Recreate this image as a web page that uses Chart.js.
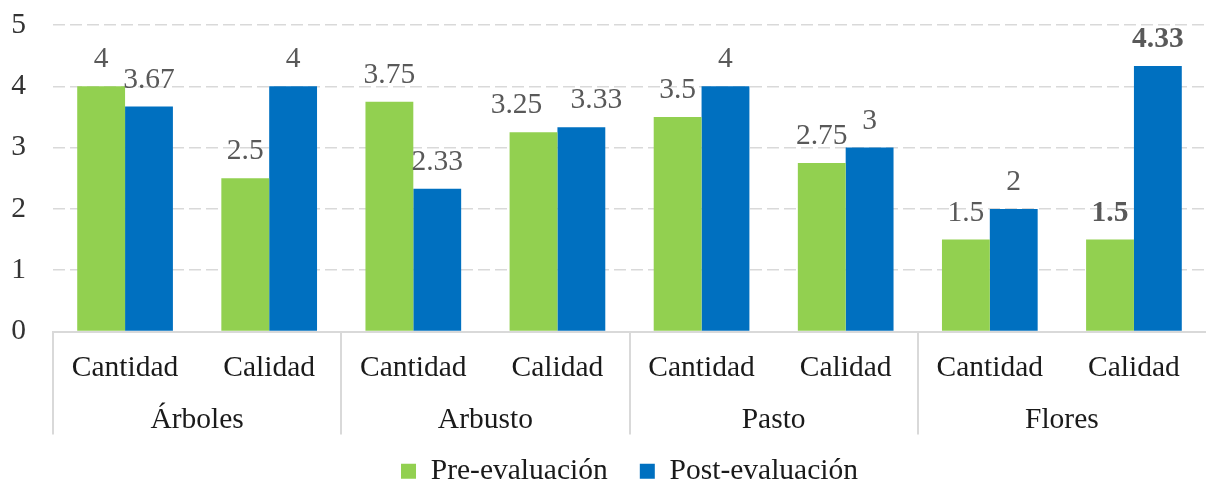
<!DOCTYPE html>
<html>
<head>
<meta charset="utf-8">
<script src="https://cdn.jsdelivr.net/npm/chart.js@4/dist/chart.umd.min.js"></script>
<style>
  html, body { margin: 0; padding: 0; background: #fff; }
  #wrap { width: 1206px; height: 483px; }
</style>
</head>
<body>
<div id="wrap"><canvas id="myChart"></canvas></div>
<script>
// data
var groups = ["Árboles", "Arbusto", "Pasto", "Flores"];
var subLabels = ["Cantidad", "Calidad", "Cantidad", "Calidad", "Cantidad", "Calidad", "Cantidad", "Calidad"];
var preValues = [4, 2.5, 3.75, 3.25, 3.5, 2.75, 1.5, 1.5];
var postValues = [3.67, 4, 2.33, 3.33, 4, 3, 2, 4.33];
var yTicks = [0, 1, 2, 3, 4, 5];
var boldIndex = 7; // last column labels are bold in the original

var serif = "'Liberation Serif', 'Times New Roman', serif";
var fs = 29.5;
// labels that were nudged sideways in the original so they don't collide
var labelShift = { "0-3": -17, "1-3": 15 };

// value labels above each bar
const valueLabels = {
    id: "valueLabels",
    afterDatasetsDraw(chart) {
        const ctx = chart.ctx;
        ctx.save();
        ctx.fillStyle = "#595959";
        ctx.textAlign = "center";
        ctx.textBaseline = "alphabetic";
        chart.data.datasets.forEach((ds, di) => {
            chart.getDatasetMeta(di).data.forEach((bar, i) => {
                ctx.font = (i === boldIndex ? "bold " : "") + fs + "px " + serif;
                var dx = labelShift[di + "-" + i] || 0;
                ctx.fillText(String(ds.data[i]), bar.x + dx, bar.y - 19);
            });
        });
        ctx.restore();
    }
};

// vertical separators between the groups, below the plot
const groupLines = {
    id: "groupLines",
    afterDraw(chart) {
        const ctx = chart.ctx;
        const x2 = chart.scales.x2;
        const step = x2.width / groups.length;
        ctx.save();
        ctx.strokeStyle = "#d9d9d9";
        ctx.lineWidth = 2;
        for (let i = 0; i < groups.length; i++) {
            const px = Math.round(x2.getPixelForValue(i) - step / 2);
            ctx.beginPath();
            ctx.moveTo(px, chart.chartArea.bottom);
            ctx.lineTo(px, x2.top + 38);
            ctx.stroke();
        }
        ctx.restore();
    }
};

const config = {
    type: "bar",
    data: {
        labels: subLabels,
        datasets: [
            { label: "Pre-evaluación", data: preValues, backgroundColor: "#92D050" },
            { label: "Post-evaluación", data: postValues, backgroundColor: "#0070C0" }
        ]
    },
    options: {
        responsive: true,
        maintainAspectRatio: false,
        animation: false,
        categoryPercentage: 0.664,
        barPercentage: 1,
        layout: { padding: { top: 25, right: 0, left: 0, bottom: -13 } },
        plugins: {
            legend: {
                position: "bottom",
                fullSize: false,
                labels: {
                    boxWidth: 15,
                    boxHeight: 15,
                    padding: 10,
                    color: "#1a1a1a",
                    font: { family: serif, size: fs },
                    generateLabels: function(chart) {
                        var items = Chart.defaults.plugins.legend.labels.generateLabels(chart);
                        // a little more room between the two entries
                        items[0].text = items[0].text + "   ";
                        return items;
                    }
                }
            },
            tooltip: { enabled: false }
        },
        scales: {
            y: {
                min: 0,
                max: 5,
                afterBuildTicks: function(scale) {
                    scale.ticks = yTicks.map(v => ({ value: v }));
                },
                afterFit: function(scale) {
                    scale.width = 53;
                    // keep the label padding from pushing the plot down
                    scale.paddingTop = 0;
                    scale.paddingBottom = 0;
                },
                grid: {
                    color: "#d9d9d9",
                    lineWidth: 1.5,
                    drawTicks: false
                },
                border: { display: false, dash: [12, 5] },
                ticks: {
                    padding: 27,
                    color: "#333",
                    font: { family: serif, size: fs }
                }
            },
            x: {
                weight: 0,
                grid: { display: false, drawTicks: false },
                border: { display: true, color: "#d9d9d9", width: 2 },
                afterFit: function(scale) { scale.height = 65; },
                ticks: {
                    padding: 19,
                    color: "#1a1a1a",
                    maxRotation: 0,
                    autoSkip: false,
                    font: { family: serif, size: fs }
                }
            },
            x2: {
                type: "category",
                labels: groups,
                position: "bottom",
                offset: true,
                weight: 1,
                grid: { display: false, drawTicks: false },
                border: { display: false },
                afterFit: function(scale) { scale.height = 50; },
                ticks: {
                    padding: 6,
                    color: "#1a1a1a",
                    maxRotation: 0,
                    autoSkip: false,
                    font: { family: serif, size: fs }
                }
            }
        }
    },
    plugins: [valueLabels, groupLines]
};

var displaychart = new Chart(document.getElementById("myChart").getContext("2d"), config);
</script>
</body>
</html>
